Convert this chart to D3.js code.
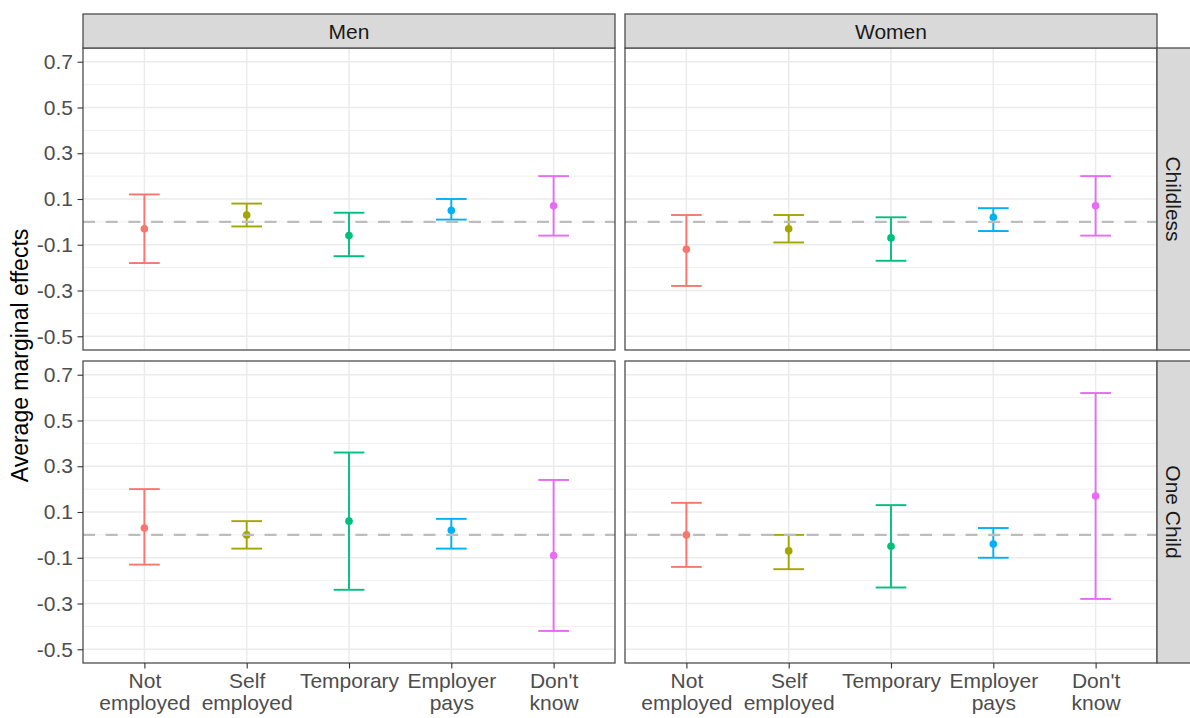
<!DOCTYPE html>
<html>
<head>
<meta charset="utf-8">
<script src="https://cdn.jsdelivr.net/npm/d3@7"></script>
<style>
  html, body { margin: 0; padding: 0; background: #ffffff; }
  svg { display: block; font-family: "Liberation Sans", Arial, Helvetica, sans-serif; }
</style>
</head>
<body>
<svg id="chart" width="1190" height="718"></svg>
<script>
// Employment categories (x axis) and their two-line tick labels
const categories = ["Not employed", "Self employed", "Temporary", "Employer pays", "Don't know"];
const categoryLabels = [["Not", "employed"], ["Self", "employed"], ["Temporary"], ["Employer", "pays"], ["Don't", "know"]];
const categoryColors = ["#F8766D", "#A3A500", "#00BF7D", "#00B0F6", "#E76BF3"];

// Facet labels
const sexes = ["Men", "Women"];
const childStatus = ["Childless", "One Child"];

// Y axis ticks
const yTicks = [-0.5, -0.3, -0.1, 0.1, 0.3, 0.5, 0.7];
const yMinor = [-0.4, -0.2, 0.0, 0.2, 0.4, 0.6];

// Average marginal effects with confidence bounds, per facet
const menChildlessEst   = [-0.03, 0.03, -0.06, 0.05, 0.07];
const menChildlessLow   = [-0.18, -0.02, -0.15, 0.01, -0.06];
const menChildlessHigh  = [0.12, 0.08, 0.04, 0.10, 0.20];

const womenChildlessEst  = [-0.12, -0.03, -0.07, 0.02, 0.07];
const womenChildlessLow  = [-0.28, -0.09, -0.17, -0.04, -0.06];
const womenChildlessHigh = [0.03, 0.03, 0.02, 0.06, 0.20];

const menOneChildEst  = [0.03, 0.00, 0.06, 0.02, -0.09];
const menOneChildLow  = [-0.13, -0.06, -0.24, -0.06, -0.42];
const menOneChildHigh = [0.20, 0.06, 0.36, 0.07, 0.24];

const womenOneChildEst  = [0.00, -0.07, -0.05, -0.04, 0.17];
const womenOneChildLow  = [-0.14, -0.15, -0.23, -0.10, -0.28];
const womenOneChildHigh = [0.14, 0.00, 0.13, 0.03, 0.62];

// Facet table assembled from the arrays above
const facets = [
  { row: 0, col: 0, est: menChildlessEst, low: menChildlessLow, high: menChildlessHigh },
  { row: 0, col: 1, est: womenChildlessEst, low: womenChildlessLow, high: womenChildlessHigh },
  { row: 1, col: 0, est: menOneChildEst, low: menOneChildLow, high: menOneChildHigh },
  { row: 1, col: 1, est: womenOneChildEst, low: womenOneChildLow, high: womenOneChildHigh }
];

// Layout
const panelW = 532, panelH = 302;
const colX = [83, 625];
const rowY = [48, 361];
const stripH = 34, stripW = 34;
const fontSize = 21;

const svg = d3.select("#chart");
svg.append("rect").attr("width", 1190).attr("height", 718).attr("fill", "#ffffff");

const x = d3.scalePoint().domain(categories).range([0, panelW]).padding(0.6);
const y = d3.scaleLinear().domain([-0.56, 0.76]).range([panelH, 0]);
const capHalf = x.step() * 0.15;

facets.forEach(f => {
  const g = svg.append("g").attr("transform", `translate(${colX[f.col]},${rowY[f.row]})`);

  g.append("rect").attr("width", panelW).attr("height", panelH).attr("fill", "#ffffff");

  // grid
  g.selectAll(".minor").data(yMinor).join("line")
    .attr("x1", 0).attr("x2", panelW)
    .attr("y1", d => y(d)).attr("y2", d => y(d))
    .attr("stroke", "#ebebeb").attr("stroke-width", 0.8);
  g.selectAll(".major").data(yTicks).join("line")
    .attr("x1", 0).attr("x2", panelW)
    .attr("y1", d => y(d)).attr("y2", d => y(d))
    .attr("stroke", "#ebebeb").attr("stroke-width", 1.5);
  g.selectAll(".vmajor").data(categories).join("line")
    .attr("x1", d => x(d)).attr("x2", d => x(d))
    .attr("y1", 0).attr("y2", panelH)
    .attr("stroke", "#ebebeb").attr("stroke-width", 1.5);

  const rows = categories.map((c, i) => ({ c, i, est: f.est[i], low: f.low[i], high: f.high[i] }));

  // error bars
  const eb = g.selectAll(".eb").data(rows).join("g")
    .attr("stroke", d => categoryColors[d.i]).attr("stroke-width", 1.9).attr("fill", "none");
  eb.append("line")
    .attr("x1", d => x(d.c)).attr("x2", d => x(d.c))
    .attr("y1", d => y(d.low)).attr("y2", d => y(d.high));
  eb.append("line")
    .attr("x1", d => x(d.c) - capHalf).attr("x2", d => x(d.c) + capHalf)
    .attr("y1", d => y(d.low)).attr("y2", d => y(d.low));
  eb.append("line")
    .attr("x1", d => x(d.c) - capHalf).attr("x2", d => x(d.c) + capHalf)
    .attr("y1", d => y(d.high)).attr("y2", d => y(d.high));

  // point estimates
  g.selectAll(".pt").data(rows).join("circle")
    .attr("cx", d => x(d.c)).attr("cy", d => y(d.est)).attr("r", 3.8)
    .attr("fill", d => categoryColors[d.i]);

  // zero reference line
  g.append("line")
    .attr("x1", 0).attr("x2", panelW)
    .attr("y1", y(0)).attr("y2", y(0))
    .attr("stroke", "#bdbdbd").attr("stroke-width", 2.2)
    .attr("stroke-dasharray", "12 10.7");

  // panel border
  g.append("rect").attr("width", panelW).attr("height", panelH)
    .attr("fill", "none").attr("stroke", "#4d4d4d").attr("stroke-width", 1.3);

  // y axis on the left column
  if (f.col === 0) {
    const ax = g.append("g").call(
      d3.axisLeft(y).tickValues(yTicks).tickSize(5.5).tickPadding(4.5)
        .tickFormat(d => d.toFixed(1))
    );
    ax.select(".domain").remove();
    ax.selectAll(".tick line").attr("stroke", "#333333").attr("stroke-width", 1.1);
    ax.selectAll(".tick text").attr("fill", "#4d4d4d")
      .style("font-size", fontSize + "px").style("font-family", "Liberation Sans, Arial, sans-serif");
  }

  // x axis on the bottom row
  if (f.row === 1) {
    const ax = g.append("g").attr("transform", `translate(0,${panelH})`).call(
      d3.axisBottom(x).tickSize(5.5).tickFormat("")
    );
    ax.select(".domain").remove();
    ax.selectAll(".tick line").attr("stroke", "#333333").attr("stroke-width", 1.1);
    ax.selectAll(".tick").each(function(d, i) {
      const t = d3.select(this).append("text")
        .attr("fill", "#4d4d4d").attr("text-anchor", "middle")
        .style("font-size", fontSize + "px");
      categoryLabels[i].forEach((line, k) => {
        t.append("tspan").attr("x", 0).attr("y", 25 + k * 22).text(line);
      });
    });
  }
});

// column strips
sexes.forEach((s, i) => {
  svg.append("rect").attr("x", colX[i]).attr("y", rowY[0] - stripH)
    .attr("width", panelW).attr("height", stripH)
    .attr("fill", "#d9d9d9").attr("stroke", "#4d4d4d").attr("stroke-width", 1.3);
  svg.append("text").attr("x", colX[i] + panelW / 2).attr("y", rowY[0] - stripH / 2 + 8)
    .attr("text-anchor", "middle").attr("fill", "#1a1a1a")
    .style("font-size", fontSize + "px").text(s);
});

// row strips
childStatus.forEach((s, i) => {
  const sx = colX[1] + panelW;
  svg.append("rect").attr("x", sx).attr("y", rowY[i])
    .attr("width", stripW).attr("height", panelH)
    .attr("fill", "#d9d9d9").attr("stroke", "#4d4d4d").attr("stroke-width", 1.3);
  svg.append("text")
    .attr("transform", `translate(${sx + stripW / 2 - 8},${rowY[i] + panelH / 2}) rotate(90)`)
    .attr("text-anchor", "middle").attr("fill", "#1a1a1a")
    .style("font-size", fontSize + "px").text(s);
});

// y axis title
svg.append("text")
  .attr("transform", `translate(28,${(rowY[0] + rowY[1] + panelH) / 2}) rotate(-90)`)
  .attr("text-anchor", "middle").attr("fill", "#000000")
  .style("font-size", "23px").text("Average marginal effects");
</script>
</body>
</html>
